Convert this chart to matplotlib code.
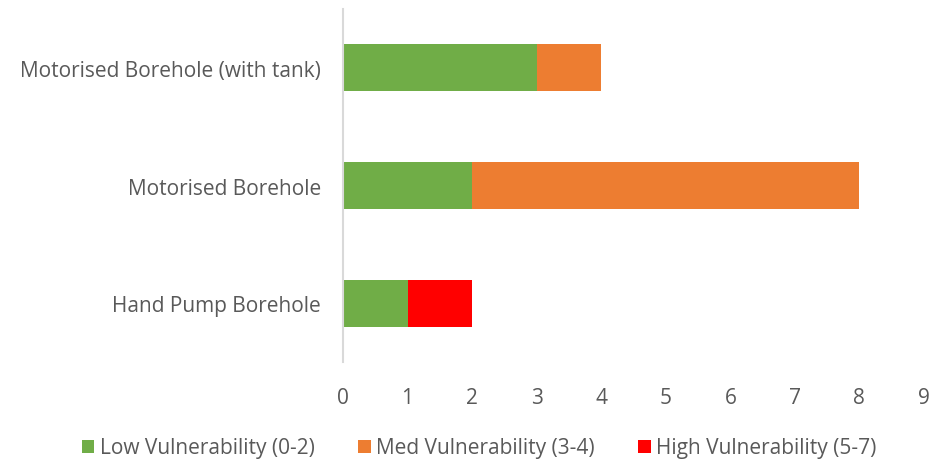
import matplotlib
matplotlib.use("Agg")
import matplotlib.pyplot as plt

# Site types and counts per vulnerability band
categories = ["Hand Pump Borehole", "Motorised Borehole", "Motorised Borehole (with tank)"]
low_vuln = [1, 2, 3]
med_vuln = [0, 6, 1]
high_vuln = [1, 0, 0]
series_labels = ["Low Vulnerability (0-2)", "Med Vulnerability (3-4)", "High Vulnerability (5-7)"]
series_colors = ["#70AD47", "#ED7D31", "#FF0000"]
x_ticks = list(range(0, 10))

plt.rcParams["font.family"] = ["Open Sans", "DejaVu Sans"]
text_color = "#595959"

fig = plt.figure(figsize=(9.32, 4.6), dpi=100)
ax = fig.add_axes([0.368, 0.211, 0.6234, 0.767])

ypos = list(range(len(categories)))
left = [0] * len(categories)
for vals, lab, col in zip([low_vuln, med_vuln, high_vuln], series_labels, series_colors):
    ax.barh(ypos, vals, left=left, height=0.4, color=col, label=lab)
    left = [l + v for l, v in zip(left, vals)]

ax.set_xlim(0, 9)
ax.set_ylim(-0.5, len(categories) - 0.5)
ax.set_xticks(x_ticks)
ax.set_xticklabels([str(t) for t in x_ticks])
ax.set_yticks(ypos)
ax.set_yticklabels(categories)

for s in ["top", "right", "bottom"]:
    ax.spines[s].set_visible(False)
ax.spines["left"].set_color("#D9D9D9")
ax.spines["left"].set_linewidth(1.5)

ax.tick_params(axis="both", length=0, labelsize=15, colors=text_color)
ax.tick_params(axis="y", pad=16)
ax.tick_params(axis="x", pad=18)

fig.legend(loc="center", bbox_to_anchor=(0.514, 0.024), ncol=3, frameon=False,
           fontsize=15, labelcolor=text_color, handlelength=0.6, handleheight=0.6,
           handletextpad=0.25, columnspacing=2.1)

fig.savefig("out.png", dpi=100)
